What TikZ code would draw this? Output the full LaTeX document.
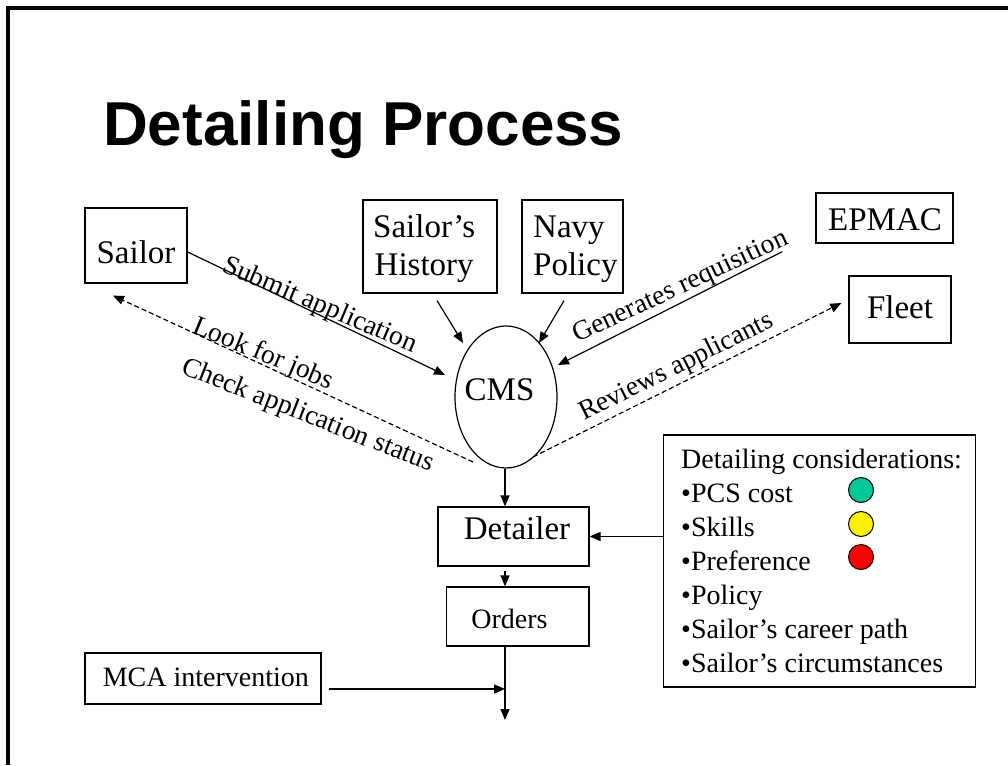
\documentclass[tikz,border=0pt]{standalone}
\usepackage{fontspec}
\setmainfont{Liberation Serif}
\newfontfamily\titlefont{Liberation Sans}
\usetikzlibrary{arrows.meta,calc,shapes.geometric}
\definecolor{cteal}{RGB}{0,200,150}
\begin{document}
\begin{tikzpicture}[x=1pt,y=-1pt,
  box/.style={draw,line width=1.2pt,inner sep=0pt},
  txt/.style={inner sep=0pt,anchor=base,font=\fontsize{33}{40}\selectfont},
  txtw/.style={inner sep=0pt,anchor=base west,font=\fontsize{33}{40}\selectfont},
  lbl/.style={inner sep=0pt,anchor=base west,font=\fontsize{28}{34}\selectfont},
  elbl/.style={inner sep=0pt,anchor=base west,font=\fontsize{27.5}{34}\selectfont},
  arr/.style={line width=1.2pt,-{Triangle[length=11pt,width=9pt]}},
  dsh/.style={arr,dash pattern=on 5pt off 3pt},
  dotc/.style={circle,draw,line width=1pt,minimum size=25pt,inner sep=0pt}]
\useasboundingbox (0,0) rectangle (1008,765);
% frame
\draw[line width=4pt] (8,765) -- (8,8) -- (1008,8);
% title
\node[anchor=base west,inner sep=0pt,font=\titlefont\bfseries\fontsize{62}{70}\selectfont] (title) at (103,145) {Detailing Process};
% boxes
\node[box,minimum width=102pt,minimum height=75pt] (sailor) at (136,245.5) {};
\node[txt] (tsailor) at (136,263) {Sailor};
\node[box,minimum width=134pt,minimum height=93pt] (hist) at (430,246.5) {};
\node[txtw] (thist1) at (373,237) {Sailor’s};
\node[txtw] (thist2) at (374.5,275) {History};
\node[box,minimum width=101pt,minimum height=93pt] (navy) at (572.5,246.5) {};
\node[txtw] (tnavy1) at (533,237) {Navy};
\node[txtw] (tnavy2) at (533,275) {Policy};
\node[box,minimum width=137pt,minimum height=50pt] (epmac) at (884.5,218) {};
\node[txt] (tepmac) at (885,230) {EPMAC};
\node[box,minimum width=102pt,minimum height=67pt] (fleet) at (900,309.5) {};
\node[txt] (tfleet) at (900,318) {Fleet};
\node[ellipse,draw,line width=1.2pt,minimum width=102pt,minimum height=142pt,inner sep=0pt] (cms) at (506,397) {};
\node[txt] (tcms) at (499.5,400) {CMS};
\node[box,minimum width=151pt,minimum height=59pt] (det) at (513.5,536.5) {};
\node[txt] (tdet) at (517,539) {Detailer};
\node[box,minimum width=142.5pt,minimum height=59pt] (orders) at (517.75,616.5) {};
\node[txt,font=\fontsize{28}{34}\selectfont] (tord) at (509.5,628) {Orders};
\node[box,minimum width=236pt,minimum height=51pt] (mca) at (203,678.5) {};
\node[txt,font=\fontsize{28}{34}\selectfont] (tmca) at (205.8,686) {MCA intervention};
\node[box,minimum width=312pt,minimum height=252pt] (cons) at (819.5,561) {};
\node[lbl] (c0) at (681,468) {Detailing considerations:};
\node[lbl] (c1) at (681,502) {•PCS cost};
\node[lbl] (c2) at (681,536) {•Skills};
\node[lbl] (c3) at (681,570) {•Preference};
\node[lbl] (c4) at (681,604) {•Policy};
\node[lbl] (c5) at (681,638) {•Sailor’s career path};
\node[lbl] (c6) at (681,672) {•Sailor’s circumstances};
\node[dotc,fill=cteal] (d1) at (861,490) {};
\node[dotc,fill=yellow] (d2) at (861,524) {};
\node[dotc,fill=red] (d3) at (861,557) {};
% free ends
\coordinate (join) at (505,689);
\coordinate (out) at (505,720);
% connectors
\draw[arr] ($(sailor.east)+(0,6.5)$) -- ($(cms.center)+(-61,-22)$);
\draw[dsh] ($(cms.center)+(-33,65)$) -- ($(sailor.south)+(-23,12)$);
\draw[arr] ($(hist.south)+(7,7)$) -- ($(cms.center)+(-43,-54)$);
\draw[arr] ($(navy.south)+(-8.5,7)$) -- ($(cms.center)+(33,-54)$);
\draw[arr] ($(epmac.south west)+(-33,8)$) -- ($(cms.center)+(52,-32)$);
\draw[dsh] ($(cms.center)+(27,60)$) -- ($(fleet.west)+(-7,-6.5)$);
\draw[arr] ($(cms.south)+(-1,0)$) -- (det.north -| join);
\draw[arr] (det.east -| cons.west) -- (det.east);
\draw[arr] ($(det.south -| join)+(0,4)$) -- (orders.north -| join);
\draw[arr] (orders.south -| join) -- (out);
\draw[arr] ($(mca.east)+(7,10.5)$) -- (join);
% edge labels
\node[elbl,rotate=-23] (l1) at (221,271) {Submit application};
\node[elbl,rotate=-22.5] (l2) at (191,332) {Look for jobs};
\node[elbl,rotate=-21.5] (l3) at (180,373) {Check application status};
\node[elbl,rotate=25] (l4) at (577,343) {Generates requisition};
\node[elbl,rotate=26.5] (l5) at (584,421) {Reviews applicants};
\end{tikzpicture}
\end{document}
